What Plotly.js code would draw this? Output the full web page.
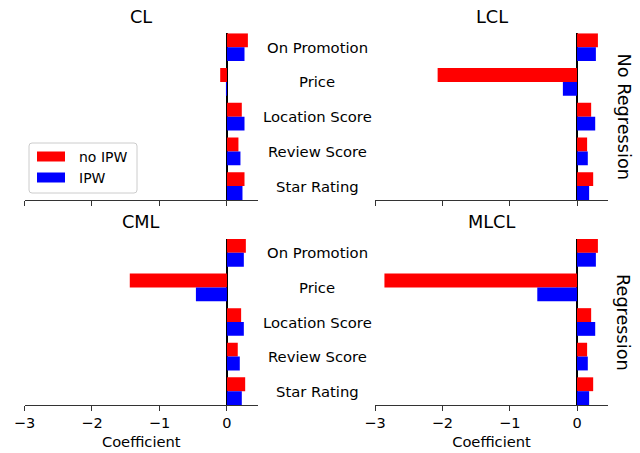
<!DOCTYPE html>
<html>
<head>
<meta charset="utf-8">
<script src="https://cdn.plot.ly/plotly-3.0.1.min.js"></script>
<style>html,body{margin:0;padding:0;background:#fff;}#chart{width:640px;height:453px;}</style>
</head>
<body>
<div id="chart"></div>
<script>
// ---- data ----
const categories = ['On Promotion', 'Price', 'Location Score', 'Review Score', 'Star Rating'];
const models = ['CL', 'LCL', 'CML', 'MLCL'];
const seriesNames = ['no IPW', 'IPW'];
const rowLabels = ['No Regression', 'Regression'];
const xTickVals = [-3, -2, -1, 0];
const xTitle = 'Coefficient';

const noIPW_CL   = [0.31, -0.10, 0.22, 0.17, 0.26];
const IPW_CL     = [0.26, -0.015, 0.26, 0.20, 0.23];
const noIPW_LCL  = [0.31, -2.07, 0.21, 0.15, 0.24];
const IPW_LCL    = [0.28, -0.21, 0.27, 0.16, 0.18];
const noIPW_CML  = [0.28, -1.44, 0.21, 0.16, 0.27];
const IPW_CML    = [0.25, -0.46, 0.25, 0.19, 0.22];
const noIPW_MLCL = [0.31, -2.86, 0.21, 0.15, 0.24];
const IPW_MLCL   = [0.28, -0.59, 0.27, 0.16, 0.18];

// ---- layout helpers ----
const W = 640, H = 453;
const px = v => v / W;
const py = v => 1 - v / H;
const FONT = 'DejaVu Sans, Liberation Sans, sans-serif';
const colors = ['#ff0000', '#0000ff'];

const panels = [
  {name: models[0], vals: [noIPW_CL, IPW_CL], xa: 'x', ya: 'y'},
  {name: models[1], vals: [noIPW_LCL, IPW_LCL], xa: 'x2', ya: 'y2'},
  {name: models[2], vals: [noIPW_CML, IPW_CML], xa: 'x3', ya: 'y3'},
  {name: models[3], vals: [noIPW_MLCL, IPW_MLCL], xa: 'x4', ya: 'y4'}
];

const traces = [];
panels.forEach(p => {
  p.vals.forEach((v, i) => {
    traces.push({
      type: 'bar', orientation: 'h',
      x: v, y: categories, name: seriesNames[i],
      marker: {color: colors[i], line: {width: 0}},
      xaxis: p.xa, yaxis: p.ya, showlegend: false,
      hoverinfo: 'x+y+name'
    });
  });
});

const xLeft = [px(24.5), px(258)];
const xRight = [px(375), px(608)];
const yTop = [py(200), py(33.3)];
const yBot = [py(405), py(239)];

function xax(domain, anchor, labels) {
  return {
    domain: domain, anchor: anchor, range: [-3, 0.46],
    tickvals: xTickVals, ticks: 'outside', ticklen: 5, tickwidth: 1, tickcolor: '#333',
    showticklabels: labels, tickfont: {family: FONT, size: 14.5, color: '#000'},
    showline: true, linecolor: '#333', linewidth: 1,
    showgrid: false, zeroline: true, zerolinecolor: '#000', zerolinewidth: 1.3,
    title: labels ? {text: xTitle, font: {family: FONT, size: 14.7, color: '#000'}, standoff: 6} : {text: ''},
    fixedrange: true
  };
}
function yax(domain, anchor) {
  return {
    domain: domain, anchor: anchor, type: 'category',
    categoryorder: 'array', categoryarray: categories,
    range: [4.4, -0.4], showticklabels: false, ticks: '',
    showgrid: false, zeroline: false, showline: false, fixedrange: true
  };
}

const annotations = [];
// panel titles
[[panels[0].name, 141, 17], [panels[1].name, 491.5, 17], [panels[2].name, 141, 222], [panels[3].name, 491.5, 222]].forEach(t => {
  annotations.push({text: t[0], xref: 'paper', yref: 'paper', x: px(t[1]), y: py(t[2]),
    xanchor: 'center', yanchor: 'middle', showarrow: false,
    font: {family: FONT, size: 17.7, color: '#000'}});
});
// category labels between columns
['y', 'y3'].forEach(ya => {
  categories.forEach(c => {
    annotations.push({text: c, xref: 'paper', yref: ya, x: px(317), y: c,
      xanchor: 'center', yanchor: 'middle', showarrow: false,
      font: {family: FONT, size: 14.8, color: '#000'}});
  });
});
// row labels on the right
[[rowLabels[0], 116.5], [rowLabels[1], 322]].forEach(r => {
  annotations.push({text: r[0], xref: 'paper', yref: 'paper', x: px(623), y: py(r[1]),
    xanchor: 'center', yanchor: 'middle', textangle: 90, showarrow: false,
    font: {family: FONT, size: 17.7, color: '#000'}});
});
// manual legend (matplotlib-style patches)
const legX0 = 29, legX1 = 137, legY0 = 143, legY1 = 193, r = 3;
const shapes = [{
  type: 'path', xref: 'paper', yref: 'paper',
  path: `M ${px(legX0 + r)} ${py(legY0)} L ${px(legX1 - r)} ${py(legY0)} Q ${px(legX1)} ${py(legY0)} ${px(legX1)} ${py(legY0 + r)} L ${px(legX1)} ${py(legY1 - r)} Q ${px(legX1)} ${py(legY1)} ${px(legX1 - r)} ${py(legY1)} L ${px(legX0 + r)} ${py(legY1)} Q ${px(legX0)} ${py(legY1)} ${px(legX0)} ${py(legY1 - r)} L ${px(legX0)} ${py(legY0 + r)} Q ${px(legX0)} ${py(legY0)} ${px(legX0 + r)} ${py(legY0)} Z`,
  line: {color: '#cccccc', width: 1}, fillcolor: 'rgba(255,255,255,0.8)'
}];
const legRows = [156.5, 177.5];
seriesNames.forEach((n, i) => {
  const cy = legRows[i];
  shapes.push({type: 'rect', xref: 'paper', yref: 'paper',
    x0: px(37), x1: px(65), y0: py(cy + 5), y1: py(cy - 5),
    fillcolor: colors[i], line: {width: 0}});
  annotations.push({text: n, xref: 'paper', yref: 'paper', x: px(77), y: py(cy),
    xanchor: 'left', yanchor: 'middle', showarrow: false,
    font: {family: FONT, size: 14, color: '#000'}});
});

const layout = {
  width: W, height: H, margin: {l: 0, r: 0, t: 0, b: 0},
  paper_bgcolor: '#fff', plot_bgcolor: '#fff',
  barmode: 'group', bargap: 0.2, bargroupgap: 0,
  showlegend: false,
  font: {family: FONT, color: '#000'},
  xaxis: xax(xLeft, 'y', false),
  xaxis2: xax(xRight, 'y2', false),
  xaxis3: xax(xLeft, 'y3', true),
  xaxis4: xax(xRight, 'y4', true),
  yaxis: yax(yTop, 'x'),
  yaxis2: yax(yTop, 'x2'),
  yaxis3: yax(yBot, 'x3'),
  yaxis4: yax(yBot, 'x4'),
  annotations: annotations,
  shapes: shapes
};

Plotly.newPlot('chart', traces, layout, {displayModeBar: false, staticPlot: true});
</script>
</body>
</html>
